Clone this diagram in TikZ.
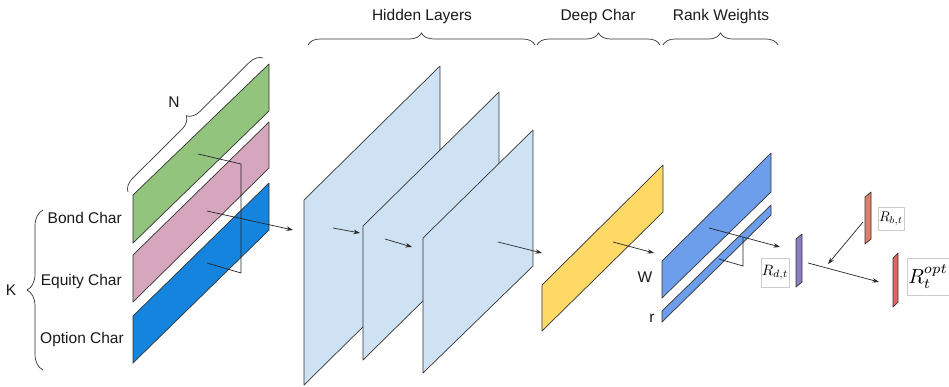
\documentclass[tikz,border=0pt]{standalone}
\usepackage{graphicx}
\usepackage{fontspec}
\setmainfont{Liberation Sans}
\usetikzlibrary{arrows.meta,decorations.pathreplacing}
\definecolor{cgreen}{HTML}{93C47D}
\definecolor{cpink}{HTML}{D5A6BD}
\definecolor{cblue}{HTML}{1484DE}
\definecolor{clight}{HTML}{CFE2F3}
\definecolor{cyellow}{HTML}{FFD966}
\definecolor{ccorn}{HTML}{6D9EEB}
\definecolor{cpurple}{HTML}{8E7CC3}
\definecolor{csalmon}{HTML}{DD7E6B}
\definecolor{cred}{HTML}{E06666}
\definecolor{cedge}{HTML}{333333}
\tikzset{
  plane/.style={draw=cedge, line width=0.7pt, line join=round},
  link/.style={draw=black!85, line width=0.7pt},
  arr/.style={link, -{Stealth[length=6.5pt,width=4.5pt]}},
  bracelin/.style={draw=black!80, line width=0.7pt, decorate, decoration={brace, amplitude=#1}},
  lbl/.style={font=\fontsize{15.5}{18}\selectfont, text=black!90, inner sep=0pt},
  mbox/.style={draw=black!20, line width=0.6pt, fill=white, inner sep=0.5pt}
}
\begin{document}
\begin{tikzpicture}[x=1pt,y=-1pt]
\useasboundingbox (0,0) rectangle (949,386);

% braces and labels
\draw[bracelin=13pt] (128,192) -- (263,58);
\node[lbl] (nN) at (174,102) {N};
\draw[bracelin=16pt] (43,370) -- (43,210);
\node[lbl] (nK) at (11,290) {K};
\draw[bracelin=12pt] (308,45) -- (535,45);
\node[lbl] (tHid) at (422,16) {Hidden Layers};
\draw[bracelin=12pt] (537,45) -- (660,45);
\node[lbl] (tDeep) at (598,16) {Deep Char};
\draw[bracelin=12pt] (663,45) -- (778,45);
\node[lbl] (tRank) at (721,16) {Rank Weights};

\node[lbl, anchor=east] (tBond) at (122,218) {Bond Char};
\node[lbl, anchor=east] (tEq) at (122,281) {Equity Char};
\node[lbl, anchor=east] (tOpt) at (124,339) {Option Char};

% input planes
\draw[plane, fill=cgreen] (133,195) -- (269,64) -- (269,111) -- (133,243) -- cycle;
\draw[plane, fill=cpink] (133,255) -- (269,122) -- (269,168) -- (133,302) -- cycle;
\draw[plane, fill=cblue] (133,316) -- (269,183) -- (269,230) -- (133,363) -- cycle;

\coordinate (g1) at (198,154);
\coordinate (g2) at (241,164);
\coordinate (g3) at (241,273);
\coordinate (g4) at (207,263);
\draw[link] (g1) -- (g2) -- (g3) -- (g4);
\coordinate (p1) at (207,211);
\coordinate (p2) at (293,230);
\draw[arr] (p1) -- (p2);

% hidden layers
\draw[plane, fill=clight] (304,200) -- (440,66) -- (440,251) -- (304,385) -- cycle;
\coordinate (h1a) at (333,228);
\coordinate (h1b) at (360,233);
\draw[arr] (h1a) -- (h1b);
\draw[plane, fill=clight] (363,226) -- (499,92) -- (499,226) -- (363,360) -- cycle;
\coordinate (h2a) at (385,239);
\coordinate (h2b) at (412,247);
\draw[arr] (h2a) -- (h2b);
\draw[plane, fill=clight] (423,238) -- (533,130) -- (533,266) -- (423,373) -- cycle;
\coordinate (h3a) at (498,242);
\coordinate (h3b) at (542,253);
\draw[arr] (h3a) -- (h3b);

% deep char
\draw[plane, fill=cyellow] (542,285) -- (663,165) -- (663,212) -- (542,331) -- cycle;
\coordinate (y1) at (613,242);
\coordinate (y2) at (654,253);
\draw[arr] (y1) -- (y2);

% rank weights
\draw[plane, fill=ccorn] (662,261) -- (771,153) -- (771,192) -- (662,298) -- cycle;
\draw[plane, fill=ccorn] (662,311) -- (771,205) -- (771,215) -- (662,322) -- cycle;
\node[lbl] (tW) at (645,277) {W};
\node[lbl] (tr) at (652,318) {r};
\coordinate (w1) at (709,228);
\coordinate (w2) at (780,247);
\draw[arr] (w1) -- (w2);
\coordinate (r1) at (719,259);
\coordinate (r2) at (743,266);
\coordinate (r3) at (743,237);
\draw[link] (r1) -- (r2) -- (r3);

% returns
\draw[plane, fill=cpurple] (796,239) -- (802,234) -- (802,282) -- (796,287) -- cycle;
\draw[plane, fill=csalmon] (865,197) -- (871,192) -- (871,239) -- (865,244) -- cycle;
\draw[plane, fill=cred] (893,258) -- (898,253) -- (898,302) -- (893,307) -- cycle;

\node[mbox, minimum width=28pt, minimum height=29pt] (bRd) at (775,272.5) {\scalebox{1.5}{$R_{d,t}$}};
\node[mbox, minimum width=26pt, minimum height=23pt] (bRb) at (891,218.5) {\scalebox{1.4}{$R_{b,t}$}};
\node[mbox, minimum width=42pt, minimum height=37pt] (bRo) at (928,276.5) {\scalebox{2.05}{$R_t^{opt}$}};

\coordinate (q1) at (808,263);
\coordinate (q2) at (879,282);
\draw[arr] (q1) -- (q2);
\coordinate (s1) at (863,222);
\coordinate (s2) at (828,264);
\draw[arr] (s1) -- (s2);
\end{tikzpicture}
\end{document}
